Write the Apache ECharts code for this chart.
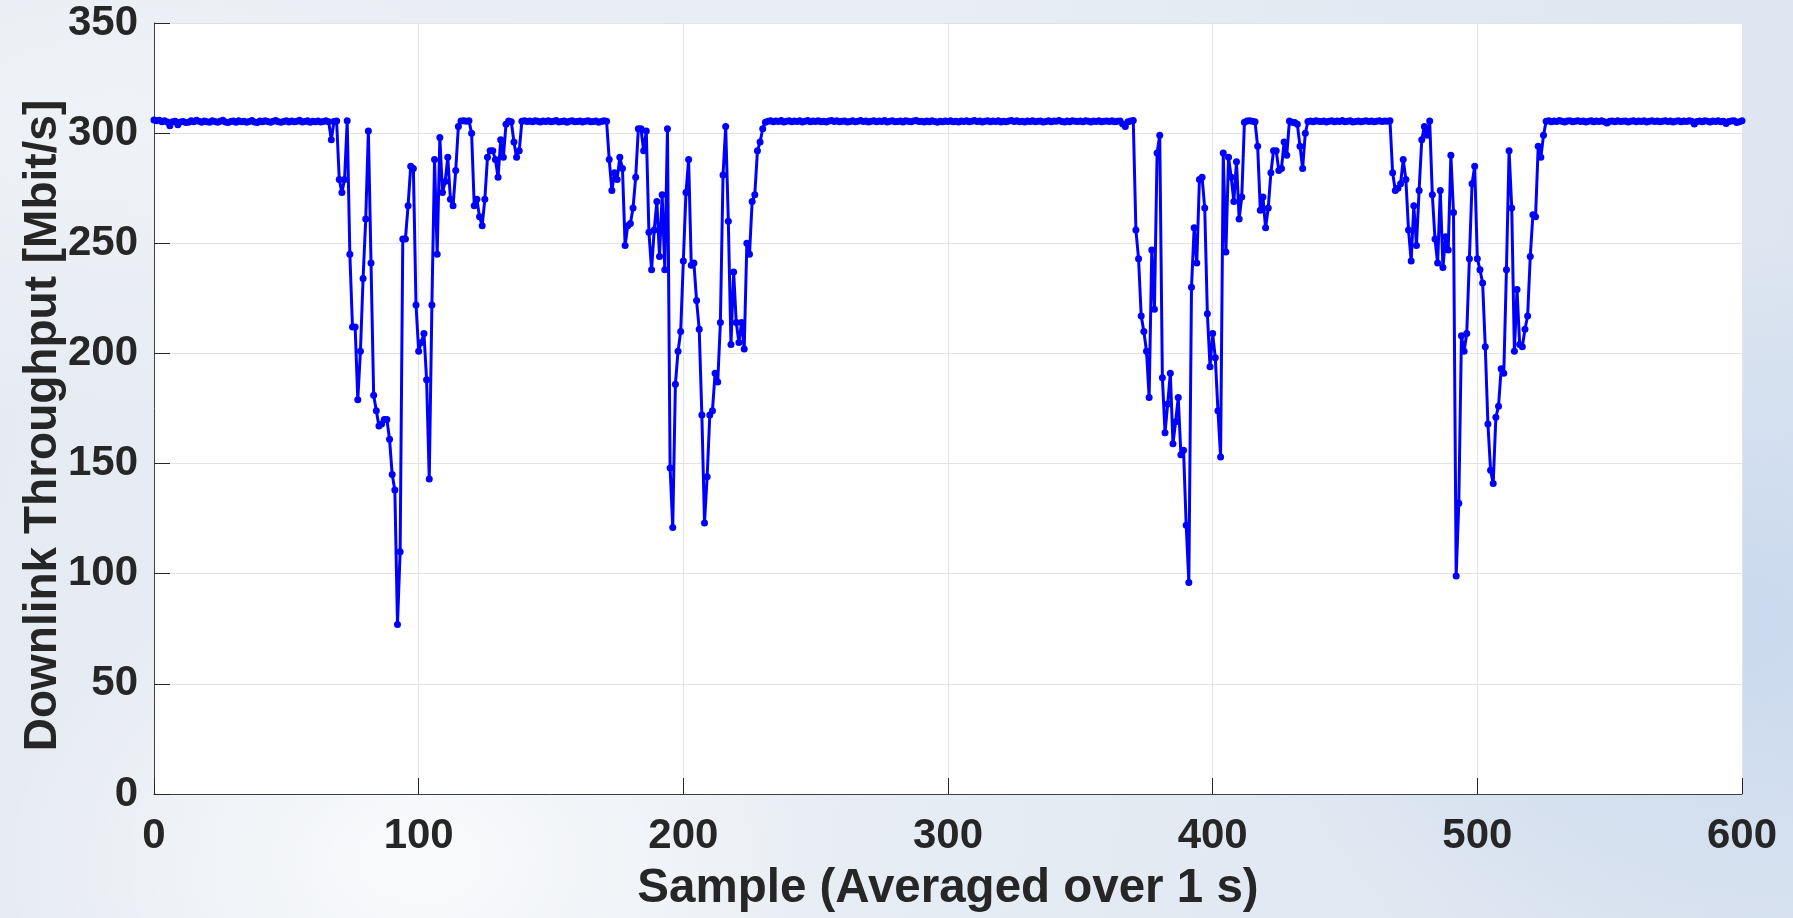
<!DOCTYPE html>
<html>
<head>
<meta charset="utf-8">
<title>Downlink Throughput</title>
<script src="https://cdn.jsdelivr.net/npm/echarts@6/dist/echarts.min.js"></script>
<style>
    html, body { margin: 0; padding: 0; }
    body {
        width: 1793px;
        height: 918px;
        overflow: hidden;
        background-color: #e2e8f1;
        background-image:
            radial-gradient(ellipse 420px 300px at 420px 860px, rgba(255,255,255,0.75), rgba(255,255,255,0)),
            radial-gradient(ellipse 500px 380px at 1720px 620px, rgba(200,216,238,0.9), rgba(200,216,238,0)),
            radial-gradient(ellipse 600px 300px at 120px 120px, rgba(240,243,247,0.9), rgba(240,243,247,0)),
            linear-gradient(100deg, #e6ebf2 0%, #e9eef4 45%, #dbe4f0 100%);
    }
    #chart { width: 1793px; height: 918px; }
</style>
</head>
<body>
<div id="chart"></div>
<script>
// 吞吐量，每秒一个采样点，按时间顺序分段
const flatA = [ // 0 - 65
    306, 305.6, 305.8, 305.2, 305.6, 305.1, 303.4, 305.2, 305.4, 303.8,
    305.1, 305.3, 304.8, 305, 305.6, 305.2, 305.8, 305.4, 305, 305.5,
    305.2, 304.9, 305.6, 305.3, 305, 305.4, 305.8, 305.1, 304.8, 305.3,
    305.5, 305, 305.6, 305.2, 305.4, 304.9, 305.3, 305.7, 305.1, 304.8,
    305.5, 305.2, 305.6, 305.3, 305, 305.4, 305.7, 305.2, 304.9, 305.3,
    305.6, 305.1, 305.5, 305.2, 305.4, 305.8, 305.1, 305.3, 305.6, 305,
    305.4, 305.2, 305.5, 305.1, 305.3, 305.6
];
const dip1 = [ // 66 - 139
    305.2, 297, 305.3, 305.5, 279, 273, 279, 305.6, 245, 212,
    212, 179, 201, 234, 261, 301, 241, 181, 174, 167,
    168, 170, 170, 161, 145, 138, 77, 110, 252, 252,
    267, 285, 284, 222, 201, 205, 209, 188, 143, 222,
    288, 245, 298, 273, 278, 289, 270, 267, 283, 303,
    305.5, 305.6, 305.4, 305.6, 300, 267, 270, 262, 258, 270,
    289, 292, 292, 288, 280, 297, 289, 304, 305.5, 305.2,
    296, 289, 292, 305.4
];
const flatB = [ // 140 - 171
    305.6, 305.3, 305.5, 305.2, 305.6, 305.4, 305.1, 305.5, 305.3, 305.6,
    305.2, 305.4, 305.7, 305.1, 305.3, 305.5, 305, 305.4, 305.6, 305.2,
    305.3, 305.5, 305.1, 305.4, 305.6, 305.2, 305.3, 305.5, 304.9, 305.3,
    305.6, 305.4
];
const dip2 = [ // 172 - 230
    288, 274, 282, 279, 289, 284, 249, 258, 259, 266,
    280, 302, 302, 292, 301, 255, 238, 256, 269, 244,
    272, 238, 302, 148, 121, 186, 201, 210, 242, 273,
    288, 240, 241, 224, 211, 172, 123, 144, 172, 174,
    191, 187, 214, 281, 303, 260, 204, 237, 214, 205,
    214, 202, 250, 245, 269, 272, 292, 296, 302
];
const flatC = [ // 231 - 370
    305, 305.4, 305.6, 305.2, 305.5, 305.3, 305.7, 305.1, 305.4, 305.6,
    305.2, 305.5, 305.3, 305.6, 305.1, 305.4, 305.7, 305.2, 305.5, 305.3,
    305.6, 305.2, 305.4, 305.1, 305.5, 305.7, 305.3, 305.6, 305.2, 305.4,
    305.5, 305.1, 305.3, 305.6, 305.2, 305.4, 305.7, 305.3, 305.5, 305.1,
    305.4, 305.6, 305.2, 305.5, 305.3, 305.7, 305.1, 305.4, 305.6, 305.2,
    305.3, 305.5, 305.1, 305.6, 305.4, 305.2, 305.5, 305.7, 305.3, 305.4,
    305.1, 305.5, 305.2, 305.6, 305.3, 304.9, 305.4, 305.2, 305.5, 305.3,
    305.6, 305.2, 305.4, 305.1, 305.5, 305.3, 305.6, 305.2, 305.4, 305.7,
    305.3, 305.5, 305.1, 305.4, 305.6, 305.2, 305.5, 305.3, 305.6, 305.1,
    305.4, 305.2, 305.5, 305.7, 305.3, 305.6, 305.2, 305.4, 305.1, 305.5,
    305.3, 305.6, 305.2, 305.4, 305.5, 305.1, 305.3, 305.6, 305.2, 305.5,
    305.4, 305.7, 305.3, 305.1, 305.5, 305.2, 305.6, 305.4, 305.3, 305.5,
    305.2, 305.6, 305.4, 305.1, 305.5, 305.3, 305.6, 305.2, 305.4, 305.5,
    305.3, 305.6, 305.2, 305.4, 305.5, 304.2, 303, 305.2, 305.5, 305.7
];
const dip3 = [ // 371 - 436
    256, 243, 217, 210, 201, 180, 247, 220, 291, 299,
    189, 164, 177, 191, 159, 169, 180, 154, 156, 122,
    96, 230, 257, 241, 279, 280, 266, 218, 194, 209,
    198, 174, 153, 291, 246, 289, 280, 269, 287, 261,
    271, 305, 305.5, 305.6, 305.4, 305.2, 294, 265, 271, 257,
    266, 282, 292, 292, 283, 284, 296, 290, 305.5, 305,
    304.8, 304, 294, 284, 300, 305.3
];
const flatD = [ // 437 - 467
    305.5, 305.2, 305.6, 305.4, 305.3, 305.5, 305.1, 305.4, 305.6, 305.2,
    305.5, 305.3, 305.7, 305.2, 305.4, 305.6, 305.1, 305.3, 305.5, 305.2,
    305.4, 305.6, 305.3, 305.5, 305.2, 305.4, 305.6, 305.3, 305.5, 305.4,
    305.6
];
const dip4 = [ // 468 - 525
    282, 274, 275, 277, 288, 279, 256, 242, 267, 249,
    274, 297, 303, 299, 305.5, 272, 252, 241, 274, 239,
    253, 247, 290, 264, 99, 132, 208, 201, 209, 243,
    277, 285, 243, 238, 232, 203, 168, 147, 141, 171,
    176, 193, 191, 238, 292, 266, 201, 229, 204, 203,
    211, 217, 244, 263, 262, 294, 289, 299
];
const flatE = [ // 526 - 600
    305.4, 305.6, 305.2, 305.5, 305.3, 305.7, 305.4, 305.1, 305.5, 305.6,
    305.2, 305.4, 305.6, 305.3, 305.5, 305.1, 305.4, 305.6, 305.2, 305.5,
    305.3, 305.6, 305.2, 304.6, 305.4, 305.5, 305.2, 305.6, 305.3, 305.4,
    305.5, 305.1, 305.4, 305.6, 305.2, 305.5, 305.3, 305.6, 305.1, 305.4,
    305.6, 305.3, 305.5, 305.2, 305.4, 305.6, 305.3, 305.5, 305.1, 305.4,
    305.6, 305.2, 305.5, 305.3, 305.6, 305.4, 304.2, 305.3, 305.5, 305.2,
    305.6, 305.4, 305.1, 305.5, 305.3, 305.6, 305.2, 305.4, 304.4, 305.3,
    305.5, 305.6, 304.8, 305.2, 305.6
];

const xTicks = [0, 100, 200, 300, 400, 500, 600];
const yTicks = [0, 50, 100, 150, 200, 250, 300, 350];

const throughput = [].concat(flatA, dip1, flatB, dip2, flatC, dip3, flatD, dip4, flatE);
const points = throughput.map((v, i) => [i, v]);

const font = '"Liberation Sans", Arial, Helvetica, sans-serif';
const textColor = '#262626';

const chart = echarts.init(document.getElementById('chart'));
chart.setOption({
    animation: false,
    backgroundColor: 'transparent',
    grid: {
        left: 154,
        right: 51,
        top: 23,
        bottom: 124,
        show: true,
        backgroundColor: '#fff',
        borderWidth: 0
    },
    xAxis: {
        type: 'value',
        min: xTicks[0],
        max: xTicks[xTicks.length - 1],
        interval: 100,
        name: 'Sample (Averaged over 1 s)',
        nameLocation: 'middle',
        nameGap: 71,
        nameMoveOverlap: false,
        nameTextStyle: { fontFamily: font, fontWeight: 'bold', fontSize: 47.5, color: textColor },
        axisLine: { show: true, lineStyle: { color: '#404040', width: 1 } },
        axisTick: { inside: true, length: 16, lineStyle: { color: '#262626', width: 1 } },
        axisLabel: { margin: 21, fontFamily: font, fontWeight: 'bold', fontSize: 42, color: textColor },
        splitLine: { show: true, lineStyle: { color: '#e3e3e3', width: 1 } }
    },
    yAxis: {
        type: 'value',
        min: yTicks[0],
        max: yTicks[yTicks.length - 1],
        interval: 50,
        name: 'Downlink Throughput [Mbit/s]',
        nameLocation: 'middle',
        nameGap: 88,
        nameMoveOverlap: false,
        nameTextStyle: {
            fontFamily: font, fontWeight: 'bold', fontSize: 46, color: textColor,
            padding: [0, 34, 0, 0]
        },
        axisLine: { show: true, lineStyle: { color: '#404040', width: 1 } },
        axisTick: { show: true, inside: true, length: 16, lineStyle: { color: '#262626', width: 1 } },
        axisLabel: { margin: 16, fontFamily: font, fontWeight: 'bold', fontSize: 42, color: textColor },
        splitLine: { show: true, lineStyle: { color: '#e3e3e3', width: 1 } }
    },
    series: [{
        type: 'line',
        data: points,
        showAllSymbol: true,
        symbol: 'circle',
        symbolSize: 7,
        itemStyle: { color: '#0000ff' },
        lineStyle: { color: '#0000ff', width: 3 },
        emphasis: { disabled: true }
    }]
});
</script>
</body>
</html>
